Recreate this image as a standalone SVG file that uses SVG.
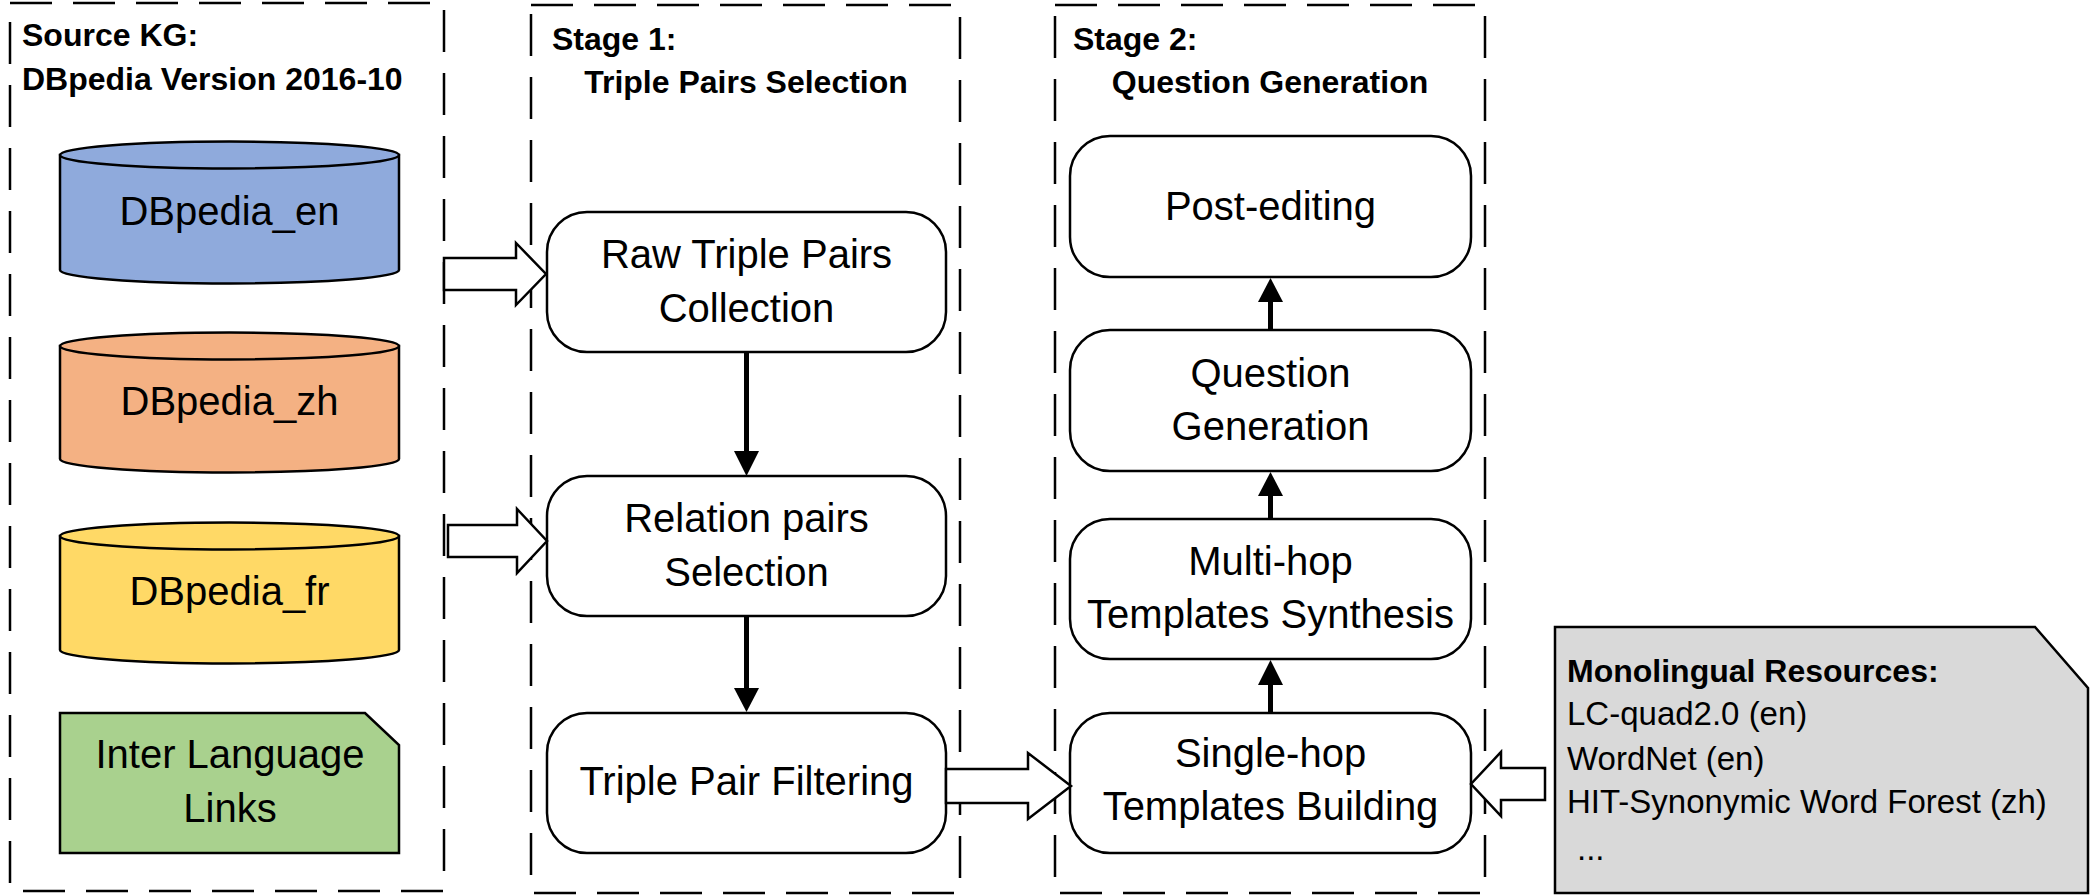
<svg xmlns="http://www.w3.org/2000/svg" width="2092" height="896" viewBox="0 0 2092 896">
<style>
text{font-family:"Liberation Sans",Arial,sans-serif;fill:#000}
.t{font-size:40px;text-anchor:middle}
.h{font-size:32px;font-weight:bold}
.d{font-size:33px}
.frame{fill:none;stroke:#000;stroke-width:2.5;stroke-dasharray:42 21}
.node{fill:#fff;stroke:#000;stroke-width:2.5}
.cyl{stroke:#000;stroke-width:2.5}
.block{fill:#fff;stroke:#000;stroke-width:2.5;stroke-linejoin:miter}
.shaft{stroke:#000;stroke-width:5;fill:none}
.head{fill:#000;stroke:none}
</style>
<rect width="2092" height="896" fill="#fff"/>
<g id="frames">
<rect class="frame" x="10" y="3" width="434" height="888"/>
<rect class="frame" x="531" y="5" width="429" height="888"/>
<rect class="frame" x="1055" y="5" width="430" height="888"/>
<text class="h" x="22" y="46">Source KG:</text>
<text class="h" x="22" y="90">DBpedia Version 2016-10</text>
<text class="h" x="552" y="50">Stage 1:</text>
<text class="h" x="746" y="93" text-anchor="middle">Triple Pairs Selection</text>
<text class="h" x="1073" y="50">Stage 2:</text>
<text class="h" x="1270" y="93" text-anchor="middle">Question Generation</text>
</g>
<g id="dbpedia_en">
<path class="cyl" fill="#8faadc" d="M60 155 V270 A169.5 13.5 0 0 0 399 270 V155 Z"/>
<ellipse class="cyl" fill="#8faadc" cx="229.5" cy="155" rx="169.5" ry="13.5"/>
<text class="t" x="229.5" y="225">DBpedia_en</text>
</g>
<g id="dbpedia_zh">
<path class="cyl" fill="#f4b183" d="M60 346 V459 A169.5 13.5 0 0 0 399 459 V346 Z"/>
<ellipse class="cyl" fill="#f4b183" cx="229.5" cy="346" rx="169.5" ry="13.5"/>
<text class="t" x="229.5" y="415">DBpedia_zh</text>
</g>
<g id="dbpedia_fr">
<path class="cyl" fill="#ffd966" d="M60 536 V650 A169.5 13.5 0 0 0 399 650 V536 Z"/>
<ellipse class="cyl" fill="#ffd966" cx="229.5" cy="536" rx="169.5" ry="13.5"/>
<text class="t" x="229.5" y="605">DBpedia_fr</text>
</g>
<g id="inter_language_links">
<polygon class="cyl" fill="#a9d18e" points="60,713 365,713 399,745 399,853 60,853"/>
<text class="t" x="230" y="768">Inter Language</text>
<text class="t" x="230" y="822">Links</text>
</g>
<g id="raw_triple_pairs">
<rect class="node" x="547" y="212" width="399" height="140" rx="40"/>
<text class="t" x="746.5" y="268">Raw Triple Pairs</text>
<text class="t" x="746.5" y="322">Collection</text>
</g>
<g id="relation_pairs">
<rect class="node" x="547" y="476" width="399" height="140" rx="40"/>
<text class="t" x="746.5" y="532">Relation pairs</text>
<text class="t" x="746.5" y="586">Selection</text>
</g>
<g id="triple_pair_filtering">
<rect class="node" x="547" y="713" width="399" height="140" rx="40"/>
<text class="t" x="746.5" y="795">Triple Pair Filtering</text>
</g>
<g id="post_editing">
<rect class="node" x="1070" y="136" width="401" height="141" rx="40"/>
<text class="t" x="1270.5" y="220">Post-editing</text>
</g>
<g id="question_generation">
<rect class="node" x="1070" y="330" width="401" height="141" rx="40"/>
<text class="t" x="1270.5" y="387">Question</text>
<text class="t" x="1270.5" y="440">Generation</text>
</g>
<g id="multi_hop">
<rect class="node" x="1070" y="519" width="401" height="140" rx="40"/>
<text class="t" x="1270.5" y="575">Multi-hop</text>
<text class="t" x="1270.5" y="628">Templates Synthesis</text>
</g>
<g id="single_hop">
<rect class="node" x="1070" y="713" width="401" height="140" rx="40"/>
<text class="t" x="1270.5" y="767">Single-hop</text>
<text class="t" x="1270.5" y="820">Templates Building</text>
</g>
<g id="monolingual_resources">
<polygon fill="#d9d9d9" stroke="#000" stroke-width="2.5" points="1555,627 2035,627 2088,688 2088,893 1555,893"/>
<text class="h" x="1567" y="682">Monolingual Resources:</text>
<text class="d" x="1567" y="725">LC-quad2.0 (en)</text>
<text class="d" x="1567" y="770">WordNet (en)</text>
<text class="d" x="1567" y="813">HIT-Synonymic Word Forest (zh)</text>
<text class="d" x="1577" y="860">...</text>
</g>
<g id="connectors">
<polygon class="block" points="444,258 516,258 516,243 546,274 516,305 516,290 444,290"/>
<polygon class="block" points="448,525 517,525 517,509 547,541 517,573 517,557 448,557"/>
<polygon class="block" points="946,769 1028,769 1028,753 1071,786 1028,819 1028,803 946,803"/>
<polygon class="block" points="1545,768 1501,768 1501,752 1471,784 1501,816 1501,800 1545,800"/>
<line class="shaft" x1="746.5" y1="352" x2="746.5" y2="453"/>
<polygon class="head" points="734,451 759,451 746.5,476"/>
<line class="shaft" x1="746.5" y1="616" x2="746.5" y2="690"/>
<polygon class="head" points="734,688 759,688 746.5,712"/>
<line class="shaft" x1="1270.5" y1="330" x2="1270.5" y2="300"/>
<polygon class="head" points="1258,302 1283,302 1270.5,278"/>
<line class="shaft" x1="1270.5" y1="519" x2="1270.5" y2="494"/>
<polygon class="head" points="1258,496 1283,496 1270.5,472"/>
<line class="shaft" x1="1270.5" y1="713" x2="1270.5" y2="683"/>
<polygon class="head" points="1258,685 1283,685 1270.5,660"/>
</g>
</svg>
